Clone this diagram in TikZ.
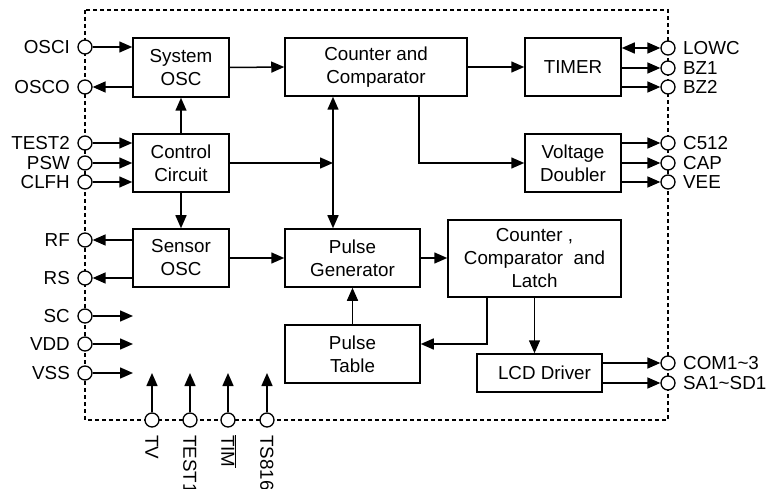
\documentclass[tikz,border=0pt]{standalone}
\usepackage{fontspec}
\setmainfont{Liberation Sans}
\usetikzlibrary{arrows.meta}
\begin{document}
\begin{tikzpicture}[x=1pt,y=-1pt,
  every node/.style={font=\fontsize{18.8}{23}\selectfont},
  blk/.style={draw, line width=1.5pt, inner sep=0pt, align=center},
  pin/.style={circle, draw, fill=white, line width=1.3pt, minimum size=14pt, inner sep=0pt},
  arr/.style={line width=1.5pt, -{Triangle[length=13pt,width=11pt]}},
  darr/.style={line width=1.5pt, {Triangle[length=13pt,width=11pt]}-{Triangle[length=13pt,width=11pt]}},
  lbl/.style={inner sep=0pt, text height=13.5pt, text depth=0pt},
  frame/.style={line width=1.3pt, dash pattern=on 4pt off 3pt}]
\useasboundingbox (0,0) rectangle (766,489);

% frame
\draw[frame] (85,10) rectangle (668,420);

% blocks
\node[blk, minimum width=96pt, minimum height=59pt] (sys) at (181,67.5) {System\\OSC};
\node[blk, minimum width=96pt, minimum height=58pt] (ctl) at (181,163) {Control\\Circuit};
\node[blk, minimum width=96pt, minimum height=58pt] (sen) at (181,258) {Sensor\\OSC};
\node[blk, minimum width=182pt, minimum height=58pt] (cc) at (376,67) {Counter and\\Comparator};
\node[blk, minimum width=96pt, minimum height=58pt] (tim) at (573,67) {TIMER};
\node[blk, minimum width=96pt, minimum height=58pt] (vd) at (573,163) {Voltage\\Doubler};
\node[blk, minimum width=135pt, minimum height=58pt] (pg) at (352.5,258) {Pulse\\Generator};
\node[blk, minimum width=173pt, minimum height=77pt] (ccl) at (534.5,258.5) {Counter ,\\Comparator\ \ and\\Latch};
\node[blk, minimum width=135pt, minimum height=58pt] (pt) at (352.5,354) {Pulse\\Table};
\node[blk, minimum width=125pt, minimum height=38pt] (lcd) at (539.5,373) {\hspace{10pt}LCD Driver};

% left pins
\node[pin] (osci) at (85,47) {};
\node[pin] (osco) at (85,87) {};
\node[pin] (test2) at (85,143) {};
\node[pin] (psw) at (85,163) {};
\node[pin] (clfh) at (85,182) {};
\node[pin] (rf) at (85,240) {};
\node[pin] (rs) at (85,278) {};
\node[pin] (sc) at (85,316) {};
\node[pin] (vdd) at (85,344) {};
\node[pin] (vss) at (85,373) {};
% right pins
\node[pin] (lowc) at (668,48) {};
\node[pin] (bz1) at (668,68) {};
\node[pin] (bz2) at (668,87) {};
\node[pin] (c512) at (668,143) {};
\node[pin] (cap) at (668,163) {};
\node[pin] (vee) at (668,182) {};
\node[pin] (com) at (668,363) {};
\node[pin] (sa) at (668,383) {};
% bottom pins
\node[pin] (tv) at (152,420) {};
\node[pin] (test1) at (190,420) {};
\node[pin] (timp) at (228,420) {};
\node[pin] (ts) at (267,420) {};

% labels left
\node[lbl, anchor=east] (losci) at (70,47) {OSCI};
\node[lbl, anchor=east] (losco) at (70,87) {OSCO};
\node[lbl, anchor=east] (ltest2) at (70,143) {TEST2};
\node[lbl, anchor=east] (lpsw) at (70,163) {PSW};
\node[lbl, anchor=east] (lclfh) at (70,182) {CLFH};
\node[lbl, anchor=east] (lrf) at (70,240) {RF};
\node[lbl, anchor=east] (lrs) at (70,278) {RS};
\node[lbl, anchor=east] (lsc) at (70,316) {SC};
\node[lbl, anchor=east] (lvdd) at (70,344) {VDD};
\node[lbl, anchor=east] (lvss) at (70,373) {VSS};
% labels right
\node[lbl, anchor=west] (llowc) at (683,48) {LOWC};
\node[lbl, anchor=west] (lbz1) at (683,68) {BZ1};
\node[lbl, anchor=west] (lbz2) at (683,87) {BZ2};
\node[lbl, anchor=west] (lc512) at (683,143) {C512};
\node[lbl, anchor=west] (lcap) at (683,163) {CAP};
\node[lbl, anchor=west] (lvee) at (683,182) {VEE};
\node[lbl, anchor=west] (lcom) at (683,363) {COM1\char`~3};
\node[lbl, anchor=west] (lsa) at (683,383) {SA1\char`~SD1};
% labels bottom
\node[lbl, anchor=west, rotate=-90] (ltv) at (152,435) {TV};
\node[lbl, anchor=west, rotate=-90] (ltest1) at (190,435) {TEST1};
\node[lbl, anchor=west, rotate=-90] (ltim) at (228,435) {$\overline{\mbox{TIM}}$};
\node[lbl, anchor=west, rotate=-90] (lts) at (267,435) {TS816};

% free ends
\coordinate (j) at (333,163);
\coordinate (k) at (487,344);
\coordinate (scE) at (133,316);
\coordinate (vddE) at (133,344);
\coordinate (vssE) at (133,373);
\coordinate (tvE) at (152,373);
\coordinate (test1E) at (190,373);
\coordinate (timE) at (228,373);
\coordinate (tsE) at (267,373);

% connectors left
\draw[arr] (osci) -- (sys.west |- osci);
\draw[arr] (sys.west |- osco) -- (osco);
\draw[arr] (test2) -- (ctl.west |- test2);
\draw[arr] (psw) -- (ctl.west |- psw);
\draw[arr] (clfh) -- (ctl.west |- clfh);
\draw[arr] (sen.west |- rf) -- (rf);
\draw[arr] (sen.west |- rs) -- (rs);
\draw[arr] (sc) -- (scE);
\draw[arr] (vdd) -- (vddE);
\draw[arr] (vss) -- (vssE);
% bottom
\draw[arr] (tv) -- (tvE);
\draw[arr] (test1) -- (test1E);
\draw[arr] (timp) -- (timE);
\draw[arr] (ts) -- (tsE);
% internal
\draw[arr] (ctl.north) -- (sys.south);
\draw[arr] (ctl.south) -- (sen.north);
\draw[arr] (sys.east) -- (cc.west);
\draw[arr] (ctl.east) -- (j);
\draw[darr] (cc.south -| j) -- (pg.north -| j);
\draw[arr] (sen.east) -- (pg.west);
\draw[arr] (cc.east) -- (tim.west);
\draw[arr] ([xshift=43pt]cc.south) |- (vd.west);
\draw[arr] (pg.east) -- (pg.east -| ccl.west);
\draw[arr] (ccl.south -| k) |- (pt.east |- k);
\draw[arr] (ccl.south) -- (ccl.south |- lcd.north);
\draw[arr] (pt.north) -- (pg.south);
% right
\draw[darr] (tim.east |- lowc) -- (lowc);
\draw[arr] (tim.east |- bz1) -- (bz1);
\draw[arr] (tim.east |- bz2) -- (bz2);
\draw[arr] (vd.east |- c512) -- (c512);
\draw[arr] (vd.east |- cap) -- (cap);
\draw[arr] (vd.east |- vee) -- (vee);
\draw[arr] (lcd.east |- com) -- (com);
\draw[arr] (lcd.east |- sa) -- (sa);
\end{tikzpicture}
\end{document}
